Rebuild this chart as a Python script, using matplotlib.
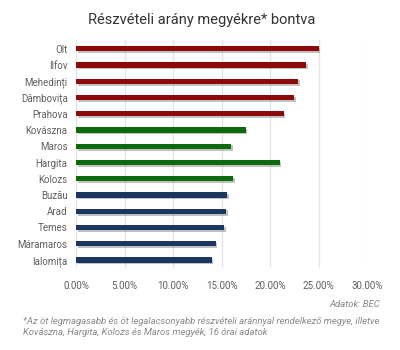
import matplotlib
matplotlib.use("Agg")
import matplotlib.pyplot as plt
import matplotlib.patheffects as pe
from matplotlib.ticker import FuncFormatter

counties = ["Olt", "Ilfov", "Mehedinți", "Dâmbovița", "Prahova", "Kovászna", "Maros",
            "Hargita", "Kolozs", "Buzău", "Arad", "Temes", "Máramaros", "Ialomița"]
values = [25.0, 23.7, 22.9, 22.5, 21.4, 17.5, 16.0, 21.0, 16.2, 15.6, 15.5, 15.3, 14.4, 14.0]
groups = ["top"] * 5 + ["hu"] * 4 + ["bottom"] * 5
group_colors = {"top": "#8b0a0a", "hu": "#0b6a0b", "bottom": "#1b3660"}
xticks = [0, 5, 10, 15, 20, 25, 30]

plt.rcParams['font.family'] = ['Roboto', 'DejaVu Sans']

fig = plt.figure(figsize=(4, 3.5), dpi=100)
ax = fig.add_axes([0.19, 0.234, 0.7275, 0.652])

ys = list(range(len(counties)))
bars = ax.barh(ys, values, height=0.32, color=[group_colors[g] for g in groups], zorder=3)
for b in bars:
    b.set_path_effects([pe.SimplePatchShadow(offset=(1.2, -1.2), shadow_rgbFace="#777777", alpha=0.45), pe.Normal()])

ax.set_xlim(0, 30)
ax.set_ylim(13.5, -0.55)
ax.set_xticks(xticks)
ax.xaxis.set_major_formatter(FuncFormatter(lambda v, p: f"{v:.2f}%"))
ax.set_yticks(ys)
ax.set_yticklabels(counties)
ax.tick_params(axis='both', length=0, labelsize=7, colors="#5e5e5e")
ax.tick_params(axis='x', pad=9)
ax.tick_params(axis='y', pad=6)
ax.grid(axis='x', color="#e3e3e3", linewidth=0.9, zorder=0)
for s in ax.spines.values():
    s.set_visible(False)

fig.text(0.505, 0.942, "Részvételi arány megyékre* bontva", ha="center", va="center",
         fontsize=10.5, color="#333333")
fig.text(0.95, 0.131, "Adatok: BEC", ha="right", va="center", fontsize=6.8,
         style="italic", color="#888888")
fig.text(0.057, 0.066, "*Az öt legmagasabb és öt legalacsonyabb részvételi aránnyal rendelkező megye, illetve\nKovászna, Hargita, Kolozs és Maros megyék, 16 órai adatok",
         ha="left", va="center", fontsize=6.8, style="italic", color="#888888", linespacing=1.35)

fig.savefig("out.png", dpi=100)
